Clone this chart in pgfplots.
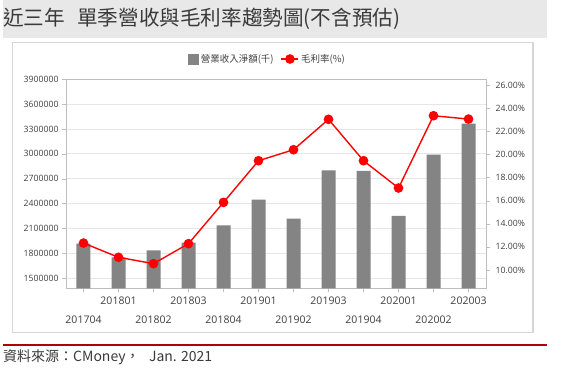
\documentclass[border=0pt]{standalone}
\usepackage{fontspec}
\setmainfont{Open Sans}
\newfontfamily\cjk{Noto Sans CJK TC}
\usepackage{pgfplots}
\pgfplotsset{compat=1.18}
\pgfplotsset{/pgf/number format/assume math mode=true}
\definecolor{barcol}{HTML}{848484}
\definecolor{bandgray}{HTML}{E8E8E8}
\definecolor{framecol}{HTML}{D6D6D6}
\definecolor{axiscol}{HTML}{BDBDBD}
\definecolor{gridcol}{HTML}{E6E6E6}
\definecolor{labcol}{HTML}{404040}
\definecolor{titlecol}{HTML}{3A3A3A}
\definecolor{redline}{HTML}{B00000}
\begin{document}
\begin{tikzpicture}
\useasboundingbox (0pt,0pt) rectangle (562pt,385pt);
\fill[white] (0pt,0pt) rectangle (562pt,385pt);
\fill[bandgray] (3pt,347pt) rectangle (547pt,385pt);
\node[anchor=west, font=\cjk\fontsize{20.6}{24}\selectfont, text=titlecol, inner sep=0] at (3pt,366.5pt) {近三年\hspace{0.6em}單季營收與毛利率趨勢圖(不含預估)};
\draw[framecol, line width=1.2pt] (12.3pt,342.7pt) rectangle (533pt,52.3pt);
\draw[redline, line width=2pt] (3pt,40.3pt) -- (547pt,40.3pt);
\node[anchor=west, font=\cjk\fontsize{14}{16}\selectfont, text=titlecol, inner sep=0] at (3pt,28pt) {資料來源：CMoney，\ \ \ Jan. 2021};

\begin{axis}[at={(66pt,96.7pt)}, anchor=south west, scale only axis,
  width=420pt, height=209pt,
  xmin=-0.5, xmax=11.5, ymin=1375000, ymax=3900000,
  axis line style={axiscol},
  ytick={1500000,1800000,...,3900000}, ytick pos=left, xtick pos=bottom,
  tick align=outside, major tick length=4pt, tick style={axiscol},
  scaled y ticks=false,
  yticklabel style={/pgf/number format/fixed, /pgf/number format/1000 sep={}, font=\fontsize{8.7}{10}\selectfont, text=labcol},
  ymajorgrids, grid style={gridcol, line width=0.8pt},
  xtick={1,3,5,7,9,11}, xticklabels={201801,201803,201901,201903,202001,202003},
  extra x ticks={0,2,4,6,8,10},
  extra x tick labels={201704,201802,201804,201902,201904,202002},
  extra x tick style={xticklabel style={yshift=-19pt}},
  xticklabel style={font=\fontsize{10.5}{12}\selectfont, text=labcol, yshift=-1.5pt},
]
\addplot[ybar, bar width=14pt, bar shift=0pt, fill=barcol, draw=none] coordinates {
(0,1915000) (1,1750000) (2,1834000) (3,1927000) (4,2136000) (5,2446000)
(6,2217000) (7,2801000) (8,2793000) (9,2249000) (10,2990000) (11,3364000)};
\end{axis}

\begin{axis}[at={(66pt,96.7pt)}, anchor=south west, scale only axis,
  width=420pt, height=209pt,
  xmin=-0.5, xmax=11.5, ymin=8.42, ymax=26.49,
  axis y line*=right, axis x line=none,
  axis line style={axiscol},
  tick align=outside, major tick length=4pt, tick style={axiscol},
  ytick={10,12,...,26},
  yticklabel={\pgfmathprintnumber[fixed,fixed zerofill,precision=2]{\tick}\%},
  yticklabel style={font=\fontsize{8.7}{10}\selectfont, text=labcol, xshift=2pt},
  legend style={at={(0.48,1.097)}, anchor=center, draw=none, fill=none,
    legend columns=2, font=\cjk\fontsize{9.5}{11}\selectfont, text=labcol,
    /tikz/every even column/.append style={column sep=5pt}},
]
\addlegendimage{legend image code/.code={\fill[barcol] (0pt,-5pt) rectangle (10pt,5pt);}}
\addlegendentry{營業收入淨額(千)}
\addplot[red, line width=1.4pt, mark=*, mark size=4.1pt, mark options={fill=red}] coordinates {
(0,12.33) (1,11.10) (2,10.55) (3,12.28) (4,15.85) (5,19.45)
(6,20.40) (7,23.03) (8,19.45) (9,17.09) (10,23.34) (11,23.05)};
\addlegendentry{毛利率(\%)}
\end{axis}
\end{tikzpicture}
\end{document}
